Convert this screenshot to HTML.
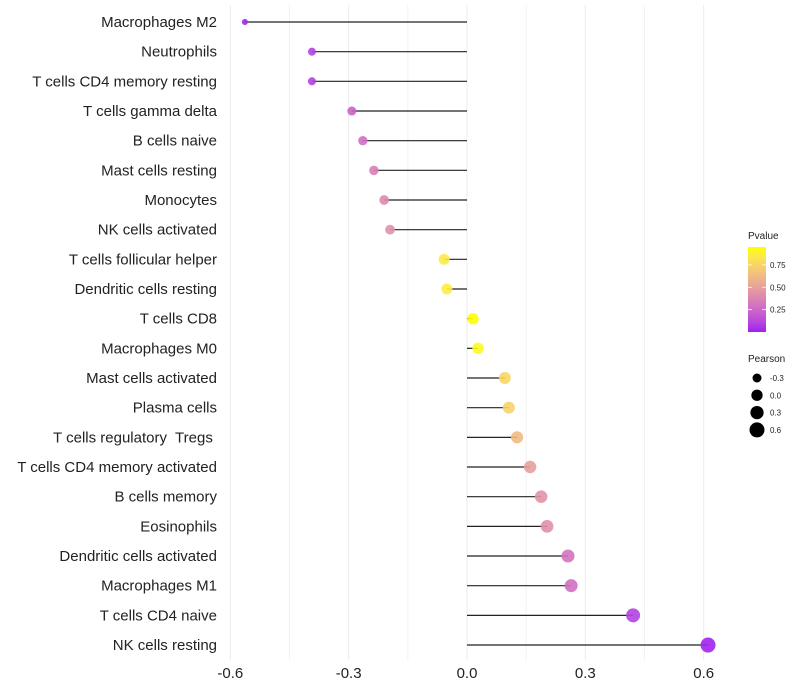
<!DOCTYPE html>
<html><head><meta charset="utf-8"><style>
html,body{margin:0;padding:0;background:#fff;}
svg{display:block;font-family:"Liberation Sans",Arial,sans-serif;}
text{white-space:pre;}
</style></head><body>
<svg id="chart" width="800" height="700">
<defs><linearGradient id="pg" x1="0" y1="1" x2="0" y2="0"></linearGradient></defs>
<g id="grid"></g><g id="marks"></g><g id="labels"></g><g id="legend"></g>
</svg>
<script>
const categories = ["Macrophages M2","Neutrophils","T cells CD4 memory resting","T cells gamma delta","B cells naive","Mast cells resting","Monocytes","NK cells activated","T cells follicular helper","Dendritic cells resting","T cells CD8","Macrophages M0","Mast cells activated","Plasma cells","T cells regulatory  Tregs ","T cells CD4 memory activated","B cells memory","Eosinophils","Dendritic cells activated","Macrophages M1","T cells CD4 naive","NK cells resting"];
const pearson = [-0.563,-0.393,-0.393,-0.292,-0.264,-0.236,-0.21,-0.195,-0.058,-0.051,0.015,0.028,0.096,0.106,0.127,0.16,0.188,0.203,0.256,0.264,0.421,0.611];
const pvalues = [0.02,0.1,0.1,0.22,0.28,0.35,0.4,0.43,0.85,0.87,0.95,0.93,0.76,0.74,0.62,0.5,0.44,0.42,0.3,0.28,0.1,0.01];
const xTicks = [-0.6,-0.3,0.0,0.3,0.6];
const xTickLabels = ["-0.6","-0.3","0.0","0.3","0.6"];
const pTicks = [0.25,0.5,0.75];
const sizeTicks = [-0.3,0.0,0.3,0.6];

const NS="http://www.w3.org/2000/svg";
function el(tag,attrs,parent){const e=document.createElementNS(NS,tag);for(const k in attrs)e.setAttribute(k,attrs[k]);parent.appendChild(e);return e;}
const x = v => 467 + v*394.5;
const y = i => 22 + i*29.667;
const rad = v => Math.sqrt(Math.max(4, 32 + 40*v));
function hex2rgb(h){return [1,3,5].map(i=>parseInt(h.substr(i,2),16)/255);}
function lin(c){return c<=0.04045?c/12.92:Math.pow((c+0.055)/1.055,2.4);}
function unlin(c){return c<=0.0031308?12.92*c:1.055*Math.pow(c,1/2.4)-0.055;}
function toLab(h){const [r,g,b]=hex2rgb(h).map(lin);let X=(r*0.4124+g*0.3576+b*0.1805)/0.95047,Y=r*0.2126+g*0.7152+b*0.0722,Z=(r*0.0193+g*0.1192+b*0.9505)/1.08883;const f=t=>t>0.008856?Math.cbrt(t):7.787*t+16/116;const fx=f(X),fy=f(Y),fz=f(Z);return [116*fy-16,500*(fx-fy),200*(fy-fz)];}
function fromLab([L,a,b]){const fy=(L+16)/116,fx=fy+a/500,fz=fy-b/200;const fi=t=>t*t*t>0.008856?t*t*t:(t-16/116)/7.787;const X=fi(fx)*0.95047,Y=fi(fy),Z=fi(fz)*1.08883;let r=X*3.2406-Y*1.5372-Z*0.4986,g=-X*0.9689+Y*1.8758+Z*0.0415,bb=X*0.0557-Y*0.2040+Z*1.0570;return "rgb("+[r,g,bb].map(c=>Math.round(255*Math.min(1,Math.max(0,unlin(c))))).join(",")+")";}
const LOW=toLab("#A020F0"),HIGH=toLab("#FFFF00");
const PMIN=0,PMAX=0.95;
function col(p){const t=Math.min(1,Math.max(0,(p-PMIN)/(PMAX-PMIN)));return fromLab(LOW.map((v,i)=>v+(HIGH[i]-v)*t));}

const grid=document.getElementById('grid'),marks=document.getElementById('marks'),labels=document.getElementById('labels'),legend=document.getElementById('legend');
for(let v=-0.45;v<=0.46;v+=0.3){const gl=el('line',{x1:x(v),x2:x(v),y1:5,y2:660,stroke:'#f2f2f2','stroke-width':1},grid);

}
xTicks.forEach((v,i)=>{
const gl=el('line',{x1:x(v),x2:x(v),y1:5,y2:660,stroke:'#ebebeb','stroke-width':1},grid);


const t=el('text',{x:x(v),y:678,'text-anchor':'middle','font-size':15,fill:'#222'},labels);t.textContent=xTickLabels[i];


});
categories.forEach((c,i)=>{
const t=el('text',{x:217,y:y(i)+5,'text-anchor':'end','font-size':15,fill:'#222'},labels);t.textContent=c;


const ln=el('line',{x1:x(0),x2:x(pearson[i]),y1:y(i),y2:y(i),stroke:'#222','stroke-width':1.2},marks);


const ci=el('circle',{cx:x(pearson[i]),cy:y(i),r:rad(pearson[i]),fill:col(pvalues[i]),'fill-opacity':0.9},marks);


});
const g=document.getElementById('pg');
for(let k=0;k<=10;k++){el('stop',{offset:(k*10)+'%','stop-color':col(PMIN+(PMAX-PMIN)*k/10)},g);}
const pt=el('text',{x:748,y:239,'font-size':10,fill:'#222'},legend);pt.textContent='Pvalue';


const bar=el('rect',{x:748,y:247,width:18,height:85,fill:'url(#pg)'},legend);


const py=p=>332-(p-PMIN)/(PMAX-PMIN)*85;
pTicks.forEach(p=>{
const tk=el('line',{x1:748,x2:752,y1:py(p),y2:py(p),stroke:'#fff','stroke-width':0.8},legend);


const tk2=el('line',{x1:762,x2:766,y1:py(p),y2:py(p),stroke:'#fff','stroke-width':0.8},legend);


const t=el('text',{x:770,y:py(p)+3,'font-size':8,fill:'#222'},legend);t.textContent=p.toFixed(2);


});
const st=el('text',{x:748,y:362,'font-size':10,fill:'#222'},legend);st.textContent='Pearson';


sizeTicks.forEach((v,i)=>{
const yy=378+i*17.3;
const c=el('circle',{cx:757,cy:yy,r:rad(v),fill:'#000'},legend);


const t=el('text',{x:770,y:yy+3,'font-size':8,fill:'#222'},legend);t.textContent=v.toFixed(1);


});
</script>
</body></html>
